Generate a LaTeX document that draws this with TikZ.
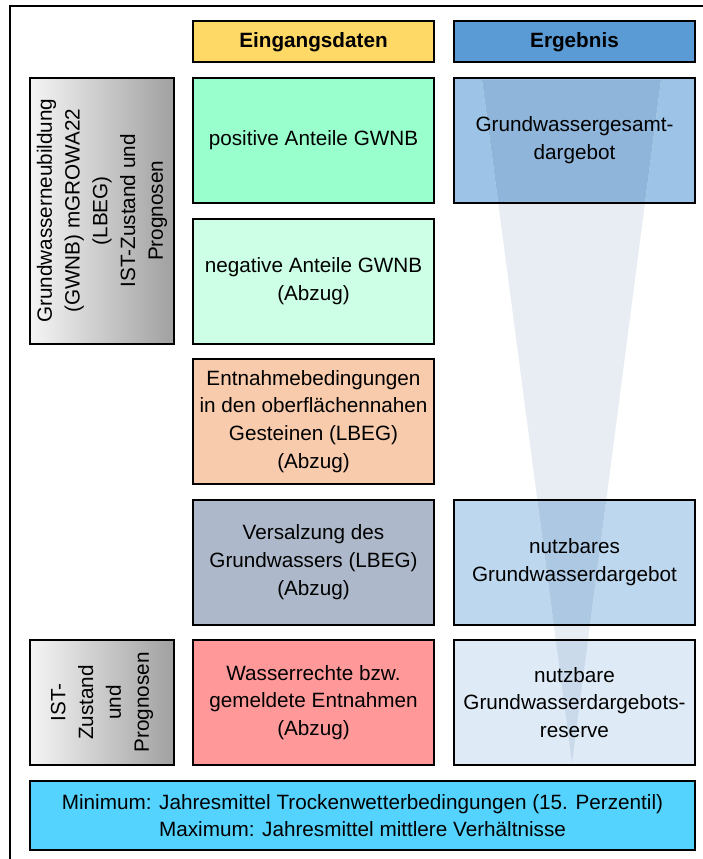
\documentclass[tikz,border=0pt]{standalone}
\usepackage{fontspec}
\setmainfont{Liberation Sans}
\usetikzlibrary{backgrounds}

% box colours
\definecolor{hdrYellow}{HTML}{FFD966}
\definecolor{hdrBlue}{HTML}{5B9BD5}
\definecolor{posGreen}{HTML}{99FFCC}
\definecolor{negGreen}{HTML}{CCFFE6}
\definecolor{peach}{HTML}{F8CBAD}
\definecolor{slate}{HTML}{ADB9CA}
\definecolor{salmon}{HTML}{FF9999}
\definecolor{resA}{HTML}{9DC3E6}
\definecolor{resB}{HTML}{BDD7EE}
\definecolor{resC}{HTML}{DEEBF7}
\definecolor{cyanbox}{HTML}{55D3FF}
\definecolor{grayR}{HTML}{A0A0A0}
% funnel tints (on white and on the three result boxes)
\definecolor{funnelOut}{HTML}{E8EDF3}
\definecolor{funnelA}{HTML}{8FB5DB}
\definecolor{funnelB}{HTML}{ACC8E3}
\definecolor{funnelC}{HTML}{CADAEB}

\tikzset{
  box/.style={draw=black, line width=2pt, inner sep=0pt, outer sep=0pt,
    anchor=north west, align=center, font=\fontsize{20.7}{27.8}\selectfont},
  hdr/.style={box, minimum width=241pt, minimum height=41pt,
    font=\bfseries\fontsize{20.7}{27.8}\selectfont},
  cell/.style={box, minimum width=241pt, minimum height=125pt},
  side/.style={box, anchor=center, rotate=90, minimum height=144pt},
  frame/.style={draw=black, line width=2pt},
}

\begin{document}
\begin{tikzpicture}[x=1pt, y=-1pt]
  \useasboundingbox (0,0) rectangle (703,859);

  % outer frame (runs off the page at right and bottom)
  \draw[frame] (10,6) rectangle (760,900);

  % column headers
  \node[hdr] (h1) at (193,21.5) {Eingangsdaten};
  \node[hdr] (h2) at (454,21.5) {Ergebnis};

  % input column
  \node[cell] (m1) at (193,78)    {positive Anteile GWNB};
  \node[cell] (m2) at (193,218.5) {negative Anteile GWNB\\(Abzug)};
  \node[cell] (m3) at (193,359)   {Entnahmebedingungen\\in den oberflächennahen\\Gesteinen (LBEG)\\(Abzug)};
  \node[cell] (m4) at (193,499.5) {Versalzung des\\Grundwassers (LBEG)\\(Abzug)};
  \node[cell] (m5) at (193,640)   {Wasserrechte bzw.\\gemeldete Entnahmen\\(Abzug)};

  % result column
  \node[cell] (r1) at (454,78)    {Grundwassergesamt-\\dargebot};
  \node[cell] (r4) at (454,499.5) {nutzbares\\Grundwasserdargebot};
  \node[cell] (r5) at (454,640)   {nutzbare\\Grundwasserdargebots-\\reserve};

  % source labels on the left
  \node[side, minimum width=265.5pt] (s1) at (102,210.75)
    {Grundwasserneubildung\\(GWNB) mGROWA22\\(LBEG)\\IST-Zustand und\\Prognosen};
  \node[side, minimum width=125pt] (s2) at (102,702.5)
    {IST-\\Zustand\\und\\Prognosen};

  % scenario note
  \node[box, minimum width=665pt, minimum height=69pt] (b) at (30,781)
    {Minimum: Jahresmittel Trockenwetterbedingungen (15. Perzentil)\\Maximum: Jahresmittel mittlere Verhältnisse};

  % funnel corners
  \coordinate (fa) at (482,80);
  \coordinate (fb) at (661,80);
  \coordinate (fc) at (572,763);

  \begin{scope}[on background layer]
    \foreach \n/\c in {h1/hdrYellow,h2/hdrBlue,m1/posGreen,m2/negGreen,m3/peach,
                       m4/slate,m5/salmon,r1/resA,r4/resB,r5/resC,b/cyanbox}
      \fill[\c] (\n.south west) rectangle (\n.north east);
    \foreach \n in {s1,s2}
      \shade[left color=white!96!black, right color=grayR]
        (\n.south west) rectangle (\n.north east);
    % funnel, tinted darker where it crosses a result box
    \fill[funnelOut] (fa) -- (fb) -- (fc) -- cycle;
    \foreach \n/\c in {r1/funnelA,r4/funnelB,r5/funnelC}{
      \begin{scope}
        \clip (\n.south west) rectangle (\n.north east);
        \fill[\c] (fa) -- (fb) -- (fc) -- cycle;
      \end{scope}}
  \end{scope}
\end{tikzpicture}
\end{document}
